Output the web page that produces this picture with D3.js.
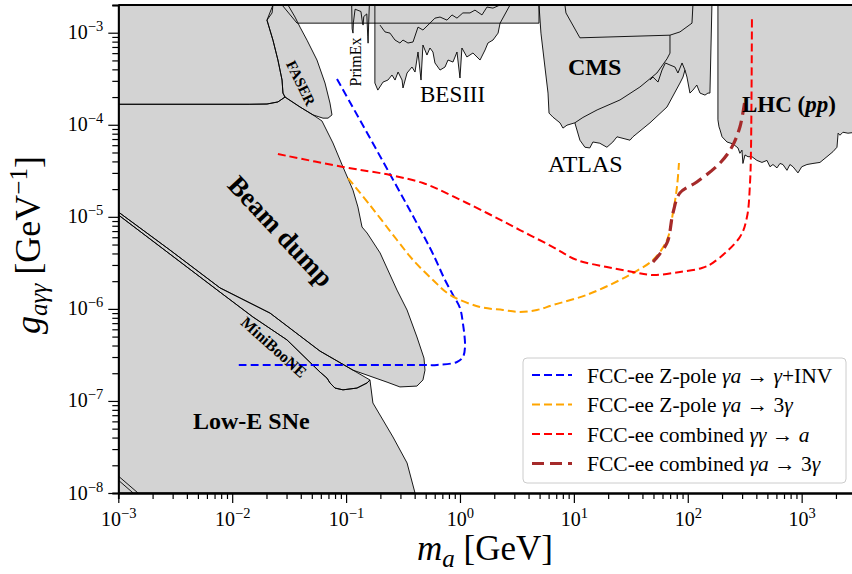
<!DOCTYPE html>
<html lang="en">
<head>
    <meta charset="utf-8">
    <title>ALP photon coupling</title>
    <script src="https://d3js.org/d3.v7.min.js"></script>
    <style>
        body { margin: 0; background: #fff; }
        text { font-family: "Liberation Serif", "Times New Roman", serif; fill: #000; }
    </style>
</head>
<body>
<svg width="852" height="574"></svg>
<script>
    // ---- data: [m_a in GeV, g in GeV^-1] ----
    var topLeft = [[1e-3,2e-3],[0.0228,2e-3],[0.0224,1.64e-3],[0.0202,1.37e-3],[0.0228,8.3e-4],[0.0252,5.05e-4],
        [0.0274,3.06e-4],[0.0279,2.21e-4],[0.0291,2.0e-4],[0.0252,1.77e-4],[0.0202,1.68e-4],[0.0143,1.67e-4],[1e-3,1.67e-4]];
    var faser = [[0.0202,1.37e-3],[0.0228,8.3e-4],[0.0252,5.05e-4],[0.0274,3.06e-4],[0.0279,2.21e-4],[0.0291,2.0e-4],
        [0.0394,1.56e-4],[0.0512,1.28e-4],[0.0627,1.18e-4],[0.0694,1.18e-4],[0.0752,1.28e-4],[0.0722,1.72e-4],
        [0.0653,2.84e-4],[0.0555,5.05e-4],[0.0454,8.3e-4],[0.0394,1.15e-3],[0.0356,1.48e-3],[0.0309,2e-3],[0.0228,2e-3]];
    var topBand = [[0.0274,2e-3],[4.94,2e-3],[4.94,1.27e-3],[0.0371,1.27e-3]];
    var primEx = [[0.112,2e-3],[0.113,1.1e-3],[0.115,9.9e-4],[0.116,1.3e-3],[0.12,1.8e-3],[0.135,1.7e-3],[0.139,1.3e-3],
        [0.141,1.21e-3],[0.143,1.5e-3],[0.152,1.6e-3],[0.155,9e-4],[0.156,7.7e-4],[0.158,1.3e-3],[0.16,2e-3]];
    var besIII = [[0.179,2e-3],[0.179,2.84e-4],[0.19,2.38e-4],[0.211,2.91e-4],[0.233,3.06e-4],[0.253,3.47e-4],[0.269,3.06e-4],
        [0.286,3.74e-4],[0.31,3.06e-4],[0.316,2.51e-4],[0.343,3.65e-4],[0.379,4.24e-4],[0.403,3.74e-4],[0.428,6.17e-4],
        [0.455,3.06e-4],[0.473,7.35e-4],[0.513,5.72e-4],[0.545,6.82e-4],[0.579,6.17e-4],[0.603,4.69e-4],[0.668,3.93e-4],
        [0.739,4.24e-4],[0.785,5.05e-4],[0.868,4.8e-4],[0.941,6.17e-4],[1.0,3.22e-4],[1.04,6.82e-4],[1.15,5.45e-4],
        [1.3,6.02e-4],[1.5,5.05e-4],[1.66,6.49e-4],[1.76,7.73e-4],[1.95,8.33e-4],[2.16,9.9e-4],[2.25,1.27e-3],[2.75,2e-3]];
    var besIIIInner = [[0.1985,1.21e-3],[0.2196,1.02e-3],[0.243,9.9e-4],[0.2687,8.33e-4],[0.297,7.73e-4],[0.316,8.33e-4],
        [0.3495,7.73e-4],[0.387,7.93e-4],[0.428,1.15e-3],[0.473,1.07e-3],[0.545,1.27e-3],[0.603,1.44e-3],[0.668,1.48e-3],
        [0.769,1.37e-3],[0.851,1.56e-3],[0.941,1.44e-3],[1.06,1.64e-3],[1.224,1.64e-3],[1.354,1.76e-3],[1.56,1.56e-3],
        [1.726,1.9e-3],[1.949,1.85e-3],[2.245,2e-3]];
    var beamDump = [[1e-3,1.67e-4],[0.0143,1.67e-4],[0.0202,1.68e-4],[0.0252,1.77e-4],[0.0291,2.0e-4],[0.0394,1.56e-4],
        [0.0512,1.28e-4],[0.0614,1.10e-4],[0.0767,6.34e-5],[0.0939,3.48e-5],[0.115,1.95e-5],[0.127,1.28e-5],[0.138,7.75e-6],
        [0.153,6.67e-6],[0.199,4.05e-6],[0.280,1.60e-6],[0.343,9.72e-7],[0.419,4.95e-7],[0.483,2.92e-7],[0.493,2.16e-7],
        [0.473,1.69e-7],[0.419,1.45e-7],[0.297,1.42e-7],[0.229,1.6e-7],[0.115,2.16e-7],[0.059,3.48e-7],[0.0215,9.0e-7],
        [0.00782,1.69e-6],[0.00284,4.36e-6],[1e-3,1.13e-5]];
    var miniBooNE = [[1e-3,1.13e-5],[0.00284,4.36e-6],[0.00782,1.69e-6],[0.0215,9.0e-7],[0.059,3.48e-7],[0.115,2.16e-7],
        [0.162,1.69e-7],[0.153,1.57e-7],[0.1246,1.38e-7],[0.0939,1.32e-7],[0.0799,1.38e-7],[0.0722,1.57e-7],[0.068,1.77e-7],
        [0.059,2.06e-7],[0.0303,4.6e-7],[0.0152,8.17e-7],[0.00782,1.52e-6],[1e-3,1.05e-5]];
    var lowESNe = [[1e-3,1.05e-5],[0.00782,1.52e-6],[0.0152,8.17e-7],[0.0303,4.6e-7],[0.059,2.06e-7],[0.068,1.77e-7],
        [0.0722,1.57e-7],[0.0799,1.38e-7],[0.0939,1.32e-7],[0.1246,1.38e-7],[0.153,1.57e-7],[0.162,1.69e-7],
        [0.172,9.5e-8],[0.258,4.06e-8],[0.343,2.12e-8],[0.403,1e-8],[1e-3,1e-8]];
    var cmsAtlas = [[4.94,2e-3],[5.14,9.9e-4],[5.57,4.24e-4],[5.93,2.21e-4],[6.05,1.34e-4],[6.55,1.21e-4],[7.55,1.05e-4],
        [8.02,9.2e-5],[8.7,9.9e-5],[10.2,1.05e-4],[11.3,6.8e-5],[12.5,5.7e-5],[13.8,5.6e-5],[14.7,6.5e-5],[16.9,6.3e-5],
        [19.5,5.7e-5],[22,6.5e-5],[23.9,7.4e-5],[31.1,6.8e-5],[33,7.4e-5],[46.6,1.05e-4],[65.7,1.56e-4],[85.4,2.84e-4],
        [90.8,3.3e-4],[94.5,3.93e-4],[98.4,3.3e-4],[104.5,2.21e-4],[111,2.38e-4],[120,2.7e-4],[128,2.21e-4],
        [141.6,2.1e-4],[150.4,2.21e-4],[156.6,2.21e-4],[163,2e-3]];
    var cmsBox = [[8.35,2e-3],[8.52,1.64e-3],[11.3,8.8e-4],[69.8,9.4e-4],[85.4,1.02e-3],[108.9,1.27e-3],[111,2e-3]];
    var cmsCurve = [[69.8,9.4e-4],[69.8,6.0e-4],[65.7,5.2e-4],[53.6,3.65e-4],[38,2.57e-4],[25.4,1.86e-4],[16,1.45e-4],
        [12,1.2e-4],[10.2,1.05e-4]];
    var atlasJag = [[46.6,3.06e-4],[49.5,3.3e-4],[54.8,2.91e-4],[59.4,3.93e-4],[63.6,4.69e-4],[69.8,4.46e-4],[77.2,4.24e-4],
        [82,3.65e-4],[89.1,4.69e-4],[94.5,3.93e-4]];
    var lhc = [[184,2e-3],[184,1.13e-4],[188,9.5e-5],[192,8.8e-5],[200,7.4e-5],[221,6.5e-5],[249,6.2e-5],[276,5.6e-5],
        [287,4.9e-5],[299,5.3e-5],[305,3.8e-5],[318,4.7e-5],[338,4.5e-5],[366,4.5e-5],[405,4.1e-5],[448,3.9e-5],
        [496,4.1e-5],[527,3.5e-5],[560,3.7e-5],[607,3.4e-5],[645,3.8e-5],[685,3.7e-5],[743,3.2e-5],[789,3.7e-5],
        [839,3.5e-5],[928,3.0e-5],[1002,3.5e-5],[1113,3.7e-5],[1257,3.8e-5],[1448,3.9e-5],[1668,4.5e-5],[1883,5.1e-5],
        [2042,5.7e-5],[2090,8.1e-5],[2170,7.7e-5],[2305,8.3e-5],[2550,8.1e-5],[3000,8.3e-5],[3000,2e-3]];
    var cornerA = [[1e-3,1.53e-8],[1.49e-3,1e-8]];
    var cornerB = [[1e-3,1.38e-8],[1.35e-3,1e-8]];

    // FCC-ee projections
    var blueInv = [[0.0832,3.14e-4],[0.546,4.58e-6],[0.739,2.06e-6],[0.868,1.42e-6],[1.0,1.02e-6],[1.06,7.03e-7],
        [1.107,3.85e-7],[1.06,3.0e-7],[0.941,2.65e-7],[0.628,2.46e-7],[0.455,2.46e-7],[0.011,2.46e-7]];
    var orangeZ3 = [[0.1039,2.64e-5],[0.162,1.34e-5],[0.280,5.6e-6],[0.387,3.4e-6],[0.579,2.06e-6],[0.817,1.42e-6],
        [1.498,1.05e-6],[2.386,9.72e-7],[3.36,9.25e-7],[4.74,9.72e-7],[6.55,1.10e-6],[13.0,1.42e-6],[25.4,2.06e-6],
        [33.0,2.45e-6],[49.5,3.4e-6],[65.7,5.6e-6],[74.1,1.10e-5],[80.4,2.11e-5],[83.7,3.84e-5]];
    var redGG = [[0.0252,4.81e-5],[0.0939,3.48e-5],[0.243,2.85e-5],[0.473,2.33e-5],[0.668,1.95e-5],[1.726,1.10e-5],
        [3.36,7.19e-6],[6.55,4.70e-6],[10.6,3.4e-6],[19.5,2.85e-6],[33.0,2.52e-6],[49.5,2.33e-6],[85.4,2.52e-6],
        [133,2.78e-6],[166,3.16e-6],[287,6.04e-6],[331,9.95e-6],[352,2.33e-5],[359,5.32e-5],[366,1.48e-3]];
    var brownA3 = [[49.5,3.23e-6],[65.7,5.2e-6],[74.1,1.10e-5],[85.4,1.82e-5],[120,2.39e-5],[192,3.84e-5],
        [244,5.73e-5],[287,9.46e-5],[318,1.86e-4]];

    var xMajor = [1e-3, 1e-2, 1e-1, 1, 10, 100, 1000];
    var xExp = ["−3", "−2", "−1", "0", "1", "2", "3"];
    var yMajor = [1e-8, 1e-7, 1e-6, 1e-5, 1e-4, 1e-3];
    var yExp = ["−8", "−7", "−6", "−5", "−4", "−3"];

    // legend rows: [text, italic?]
    var legendLabels = [
        [["FCC-ee Z-pole ",0],["γa",1],[" → ",0],["γ",1],["+INV",0]],
        [["FCC-ee Z-pole ",0],["γa",1],[" → 3",0],["γ",1]],
        [["FCC-ee combined ",0],["γγ",1],[" → ",0],["a",1]],
        [["FCC-ee combined ",0],["γa",1],[" → 3",0],["γ",1]]
    ];

    // ---- layout ----
    var svg = d3.select("svg");
    var pl = 118.3, pr = 856, pt = 5, pb = 493;

    var x = d3.scaleLog().domain([1e-3, 3e3]).range([pl, pr]);
    var y = d3.scaleLog().domain([1e-8, 2e-3]).range([pb, pt]);

    svg.append("clipPath").attr("id", "plotClip")
        .append("rect")
        .attr("x", pl).attr("y", pt)
        .attr("width", pr - pl).attr("height", pb - pt);

    var line = d3.line().x(function(d){ return x(d[0]); }).y(function(d){ return y(d[1]); });
    var smooth = d3.line().x(function(d){ return x(d[0]); }).y(function(d){ return y(d[1]); })
        .curve(d3.curveCatmullRom.alpha(0.5));

    var plot = svg.append("g").attr("clip-path", "url(#plotClip)");

    // excluded regions: fill first, outlines afterwards so inner borders stay visible
    var regions = [topLeft, topBand, faser, primEx, besIII, beamDump, miniBooNE, lowESNe, cmsAtlas, lhc];
    plot.append("g").selectAll("path")
        .data(regions).enter().append("path")
        .attr("d", function(d){ return line(d) + "Z"; })
        .attr("fill", "#d3d3d3");
    plot.append("g").selectAll("path")
        .data(regions).enter().append("path")
        .attr("d", function(d){ return line(d) + "Z"; })
        .attr("fill", "none")
        .attr("stroke", "#000")
        .attr("stroke-width", 0.9)
        .attr("stroke-linejoin", "round");
    plot.append("g").selectAll("path")
        .data([besIIIInner, cmsBox, cmsCurve, atlasJag, cornerA, cornerB]).enter().append("path")
        .attr("d", function(d){ return line(d); })
        .attr("fill", "none")
        .attr("stroke", "#000")
        .attr("stroke-width", 0.9);

    // projection curves
    var curves = [
        {data: blueInv, color: "#0000ff", width: 2, dash: "8,4"},
        {data: orangeZ3, color: "#ffa500", width: 2, dash: "8,4"},
        {data: redGG, color: "#ff0000", width: 2, dash: "8,4"},
        {data: brownA3, color: "#a52a2a", width: 3.2, dash: "12,6"}
    ];
    plot.append("g").selectAll("path")
        .data(curves).enter().append("path")
        .attr("d", function(d){ return smooth(d.data); })
        .attr("fill", "none")
        .attr("stroke", function(d){ return d.color; })
        .attr("stroke-width", function(d){ return d.width; })
        .attr("stroke-dasharray", function(d){ return d.dash; });

    // region labels
    var lab = svg.append("g");
    lab.append("text").attr("transform", "translate(281,231) rotate(47)")
        .attr("text-anchor", "middle").attr("dy", "0.35em")
        .style("font-size", "27px").style("font-weight", "bold").text("Beam dump");
    lab.append("text").attr("x", 193).attr("y", 429)
        .style("font-size", "24px").style("font-weight", "bold").text("Low-E SNe");
    lab.append("text").attr("transform", "translate(274,347) rotate(42)")
        .attr("text-anchor", "middle").attr("dy", "0.35em")
        .style("font-size", "16px").style("font-weight", "bold").text("MiniBooNE");
    lab.append("text").attr("transform", "translate(301,83) rotate(64)")
        .attr("text-anchor", "middle").attr("dy", "0.35em")
        .style("font-size", "15px").style("font-weight", "bold").text("FASER");
    lab.append("text").attr("transform", "translate(355,62) rotate(-90)")
        .attr("text-anchor", "middle").attr("dy", "0.35em")
        .style("font-size", "16px").text("PrimEx");
    lab.append("text").attr("x", 420).attr("y", 102).style("font-size", "23px").text("BESIII");
    lab.append("text").attr("x", 568).attr("y", 75).style("font-size", "24px").style("font-weight", "bold").text("CMS");
    lab.append("text").attr("x", 548).attr("y", 172).style("font-size", "24px").text("ATLAS");
    var lhcText = lab.append("text").attr("x", 742).attr("y", 112)
        .style("font-size", "23px").style("font-weight", "bold");
    lhcText.append("tspan").text("LHC (");
    lhcText.append("tspan").style("font-style", "italic").text("pp");
    lhcText.append("tspan").text(")");

    // axes
    function minorTicks(lo, hi) {
        var out = [];
        for (var k = -9; k <= 4; k++) {
            for (var m = 2; m <= 9; m++) {
                var v = m * Math.pow(10, k);
                if (v > lo && v <= hi) out.push(v);
            }
        }
        return out;
    }

    var xAxisG = svg.append("g").attr("transform", "translate(0," + pb + ")");
    xAxisG.append("g").call(d3.axisBottom(x).tickValues(minorTicks(1e-3, 3e3)).tickSize(6).tickFormat(""));
    var xMaj = xAxisG.append("g").call(d3.axisBottom(x).tickValues(xMajor).tickSize(10).tickSizeOuter(0).tickFormat(""));
    xAxisG.selectAll(".tick line").attr("stroke-width", 1.2);
    xAxisG.selectAll(".domain").attr("stroke-width", 1.8);
    xMaj.selectAll(".tick").each(function(d, i){
        var t = d3.select(this).append("text")
            .attr("y", 33).attr("text-anchor", "middle")
            .style("font-size", "20px").style("fill", "#000");
        t.append("tspan").text("10");
        t.append("tspan").attr("dy", -8).style("font-size", "14.5px").text(xExp[i]);
    });

    var yAxisG = svg.append("g").attr("transform", "translate(" + pl + ",0)");
    yAxisG.append("g").call(d3.axisLeft(y).tickValues(minorTicks(1e-8, 2e-3)).tickSize(6).tickFormat(""));
    var yMaj = yAxisG.append("g").call(d3.axisLeft(y).tickValues(yMajor).tickSize(10).tickSizeOuter(0).tickFormat(""));
    yAxisG.selectAll(".tick line").attr("stroke-width", 1.2);
    yAxisG.selectAll(".domain").attr("stroke-width", 1.8);
    yMaj.selectAll(".tick").each(function(d, i){
        var t = d3.select(this).append("text")
            .attr("x", -15).attr("y", 6).attr("text-anchor", "end")
            .style("font-size", "20px").style("fill", "#000");
        t.append("tspan").text("10");
        t.append("tspan").attr("dy", -8).style("font-size", "14.5px").text(yExp[i]);
    });

    // top spine
    svg.append("line").attr("x1", pl).attr("x2", pr).attr("y1", pt).attr("y2", pt)
        .attr("stroke", "#000").attr("stroke-width", 1.8);

    // axis titles
    var xt = svg.append("text").attr("x", 485).attr("y", 560).attr("text-anchor", "middle").style("font-size", "35px");
    xt.append("tspan").style("font-style", "italic").text("m");
    xt.append("tspan").attr("dy", 7).style("font-size", "25px").style("font-style", "italic").text("a");
    xt.append("tspan").attr("dy", -7).text(" [GeV]");

    var yt = svg.append("text").attr("transform", "translate(40,245) rotate(-90)")
        .attr("text-anchor", "middle").style("font-size", "36px");
    yt.append("tspan").style("font-style", "italic").text("g");
    yt.append("tspan").attr("dy", 7).style("font-size", "25px").style("font-style", "italic").text("aγγ");
    yt.append("tspan").attr("dy", -7).text(" [GeV");
    yt.append("tspan").attr("dy", -13).style("font-size", "25px").text("−1");
    yt.append("tspan").attr("dy", 13).text("]");

    // legend
    var lg = svg.append("g");
    lg.append("rect").attr("x", 523).attr("y", 358).attr("width", 323).attr("height", 125)
        .attr("rx", 4).attr("fill", "#fff").attr("fill-opacity", 0.8)
        .attr("stroke", "#cccccc").attr("stroke-width", 1);
    var rows = lg.selectAll(".row").data(curves).enter().append("g")
        .attr("transform", function(d, i){ return "translate(0," + (375 + i * 29.5) + ")"; });
    rows.append("line").attr("x1", 532).attr("x2", 572)
        .attr("stroke", function(d){ return d.color; })
        .attr("stroke-width", function(d){ return d.width; })
        .attr("stroke-dasharray", function(d){ return d.dash; });
    rows.append("text").attr("x", 587).attr("dy", "0.35em").style("font-size", "21.5px")
        .each(function(d, i){
            var t = d3.select(this);
            legendLabels[i].forEach(function(p){
                t.append("tspan").style("font-style", p[1] ? "italic" : "normal").text(p[0]);
            });
        });
</script>
</body>
</html>
